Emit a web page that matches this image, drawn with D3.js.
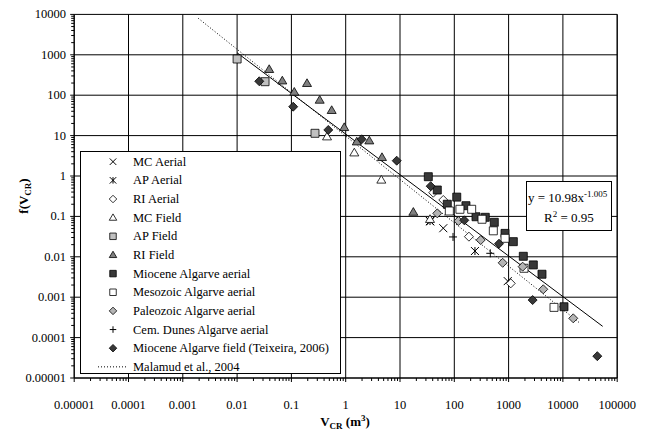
<!DOCTYPE html>
<html>
<head>
<meta charset="utf-8">
<script src="https://cdn.jsdelivr.net/npm/d3@7"></script>
<style>
  body { margin: 0; background: #fff; }
  text { font-family: "Liberation Serif", "Times New Roman", serif; }
</style>
</head>
<body>
<div id="chart"></div>
<script>
// data, [V, f(V)] pairs
var mcAerial = [[36, 0.075], [62.7, 0.051], [964, 0.0025]];
var apAerial = [[35.7, 0.077], [240, 0.0139]];
var riAerial = [[41, 0.386], [62.7, 0.255], [186, 0.0315], [1096, 0.0022]];
var mcField = [[0.453, 9.4], [1.44, 3.77], [4.53, 0.80], [35.7, 0.085]];
var apField = [[0.01, 787], [0.0327, 216], [0.272, 11.4]];
var riField = [[0.039, 438], [0.068, 228], [0.113, 120], [0.194, 197], [0.332, 76], [0.552, 42.3],
               [0.94, 16], [1.6, 7.06], [2.72, 7.48], [4.66, 2.9], [17.6, 0.128]];
var mioceneAerial = [[33.2, 0.96], [48.6, 0.45], [74.3, 0.2], [111, 0.30], [164, 0.184], [251, 0.098],
                     [372, 0.095], [545, 0.0715], [859, 0.038], [1222, 0.0237], [1866, 0.0103],
                     [2850, 0.0063], [4120, 0.0037], [10470, 0.00058]];
var mesozoicAerial = [[81, 0.136], [127, 0.15], [209, 0.15], [324, 0.085], [523, 0.044], [859, 0.0287],
                      [1922, 0.0052], [6860, 0.00056]];
var paleozoicAerial = [[48.6, 0.119], [119, 0.077], [306, 0.026], [778, 0.0071], [1815, 0.0057],
                       [4350, 0.00157], [15500, 0.0003]];
var cemDunes = [[94.7, 0.031], [460, 0.0122]];
var mioceneField = [[0.0256, 221], [0.108, 51.9], [0.478, 13.8], [1.97, 8.1], [8.7, 2.39], [36.7, 0.56],
                    [153, 0.08], [666, 0.0211], [2770, 0.00085], [43000, 3.47e-5]];

// power-law lines (straight in log-log), end points
var fitLine = [[0.01, 1120], [54000, 1.9e-4]];
var malamudLine = [[0.00193, 8000], [20050, 2.34e-4]];

var xTicks = [0.00001, 0.0001, 0.001, 0.01, 0.1, 1, 10, 100, 1000, 10000, 100000];
var xTickLabels = ["0.00001", "0.0001", "0.001", "0.01", "0.1", "1", "10", "100", "1000", "10000", "100000"];
var yTicks = [0.00001, 0.0001, 0.001, 0.01, 0.1, 1, 10, 100, 1000, 10000];
var yTickLabels = ["0.00001", "0.0001", "0.001", "0.01", "0.1", "1", "10", "100", "1000", "10000"];

var series = [
  {name: "MC Aerial", data: mcAerial, type: "x"},
  {name: "AP Aerial", data: apAerial, type: "star"},
  {name: "RI Aerial", data: riAerial, type: "diamond", fill: "#fff"},
  {name: "MC Field", data: mcField, type: "triangle", fill: "#fff"},
  {name: "AP Field", data: apField, type: "square", fill: "#c0c0c0"},
  {name: "RI Field", data: riField, type: "triangle", fill: "#808080"},
  {name: "Miocene Algarve aerial", data: mioceneAerial, type: "square", fill: "#383838"},
  {name: "Mesozoic Algarve aerial", data: mesozoicAerial, type: "square", fill: "#fff"},
  {name: "Paleozoic Algarve aerial", data: paleozoicAerial, type: "diamond", fill: "#b4b4b4"},
  {name: "Cem. Dunes Algarve aerial", data: cemDunes, type: "plus"},
  {name: "Miocene Algarve field (Teixeira, 2006)", data: mioceneField, type: "diamond", fill: "#383838"}
];

var width = 650, height = 431;
var plotLeft = 74.2, plotRight = 617.2, plotTop = 14.4, plotBottom = 378;

var svg = d3.select("#chart")
  .append("svg")
    .attr("width", width)
    .attr("height", height);

var x = d3.scaleLog().domain([0.00001, 100000]).range([plotLeft, plotRight]);
var y = d3.scaleLog().domain([0.00001, 10000]).range([plotBottom, plotTop]);

// marker paths
function marker(type, s) {
  var h = s / 2;
  if (type == "square") return "M" + (-h) + "," + (-h) + "h" + s + "v" + s + "h" + (-s) + "Z";
  if (type == "triangle") return "M0," + (-h - 0.5) + "L" + (h + 0.5) + "," + (h * 0.8) + "L" + (-h - 0.5) + "," + (h * 0.8) + "Z";
  if (type == "diamond") return "M0," + (-h - 0.5) + "L" + (h + 0.5) + ",0L0," + (h + 0.5) + "L" + (-h - 0.5) + ",0Z";
  if (type == "x") return "M" + (-h) + "," + (-h) + "L" + h + "," + h + "M" + (-h) + "," + h + "L" + h + "," + (-h);
  if (type == "star") return "M" + (-h) + "," + (-h) + "L" + h + "," + h + "M" + (-h) + "," + h + "L" + h + "," + (-h) + "M0," + (-h) + "L0," + h;
  if (type == "plus") return "M" + (-h) + ",0L" + h + ",0M0," + (-h) + "L0," + h;
}
function isLine(type) { return type == "x" || type == "star" || type == "plus"; }

// grid
var grid = svg.append("g");
yTicks.forEach(function(d) {
  grid.append("line")
    .attr("x1", plotLeft).attr("x2", plotRight)
    .attr("y1", y(d)).attr("y2", y(d))
    .attr("stroke", "#000").attr("stroke-width", 1);
});
xTicks.forEach(function(d) {
  grid.append("line")
    .attr("x1", x(d)).attr("x2", x(d))
    .attr("y1", plotTop).attr("y2", plotBottom)
    .attr("stroke", "#000").attr("stroke-width", 1);
});

// axes with minor ticks
var minorX = [], minorY = [];
for (var e = -5; e < 5; e++) {
  for (var k = 2; k < 10; k++) {
    minorX.push(k * Math.pow(10, e));
    if (e < 4) minorY.push(k * Math.pow(10, e));
  }
}
var ax = svg.append("g").attr("stroke", "#000");
ax.append("line").attr("x1", plotLeft).attr("x2", plotRight).attr("y1", plotBottom).attr("y2", plotBottom);
ax.append("line").attr("x1", plotLeft).attr("x2", plotLeft).attr("y1", plotTop).attr("y2", plotBottom);
ax.append("line").attr("x1", plotRight).attr("x2", plotRight).attr("y1", plotTop).attr("y2", plotBottom);
xTicks.forEach(function(d) {
  ax.append("line").attr("x1", x(d)).attr("x2", x(d)).attr("y1", plotBottom).attr("y2", plotBottom + 4);
});
minorX.forEach(function(d) {
  ax.append("line").attr("x1", x(d)).attr("x2", x(d)).attr("y1", plotBottom).attr("y2", plotBottom + 3);
});
yTicks.forEach(function(d) {
  ax.append("line").attr("x1", plotLeft - 4).attr("x2", plotLeft).attr("y1", y(d)).attr("y2", y(d));
});
minorY.forEach(function(d) {
  ax.append("line").attr("x1", plotLeft - 3).attr("x2", plotLeft).attr("y1", y(d)).attr("y2", y(d));
});

// tick labels
svg.selectAll("xlab")
  .data(xTicks)
  .enter()
  .append("text")
    .attr("x", function(d) { return x(d); })
    .attr("y", 409)
    .attr("text-anchor", "middle")
    .style("font-size", "12.5px")
    .text(function(d, i) { return xTickLabels[i]; });

svg.selectAll("ylab")
  .data(yTicks)
  .enter()
  .append("text")
    .attr("x", 66)
    .attr("y", function(d) { return y(d) + 4; })
    .attr("text-anchor", "end")
    .style("font-size", "12.5px")
    .text(function(d, i) { return yTickLabels[i]; });

// axis titles
var xt = svg.append("text")
  .attr("x", 345).attr("y", 426)
  .attr("text-anchor", "middle")
  .style("font-size", "13px").style("font-weight", "bold");
xt.append("tspan").text("V");
xt.append("tspan").attr("dy", 3).style("font-size", "9px").text("CR");
xt.append("tspan").attr("dy", -3).text(" (m");
xt.append("tspan").attr("dy", -5).style("font-size", "9px").text("3");
xt.append("tspan").attr("dy", 5).text(")");

var yt = svg.append("text")
  .attr("transform", "translate(28,196)rotate(-90)")
  .attr("text-anchor", "middle")
  .style("font-size", "13px").style("font-weight", "bold");
yt.append("tspan").text("f(V");
yt.append("tspan").attr("dy", 3).style("font-size", "9px").text("CR");
yt.append("tspan").attr("dy", -3).text(")");

// lines
var line = d3.line()
  .x(function(d) { return x(d[0]); })
  .y(function(d) { return y(d[1]); });

svg.append("path")
  .datum(malamudLine)
  .attr("d", line)
  .attr("fill", "none")
  .attr("stroke", "#000")
  .attr("stroke-width", 1)
  .style("stroke-dasharray", "1,2");

svg.append("path")
  .datum(fitLine)
  .attr("d", line)
  .attr("fill", "none")
  .attr("stroke", "#000")
  .attr("stroke-width", 1);

// points
series.forEach(function(s) {
  svg.append("g")
    .selectAll("pt")
    .data(s.data)
    .enter()
    .append("path")
      .attr("transform", function(d) { return "translate(" + x(d[0]) + "," + y(d[1]) + ")"; })
      .attr("d", marker(s.type, 8))
      .attr("fill", isLine(s.type) ? "none" : s.fill)
      .attr("stroke", "#000")
      .attr("stroke-width", isLine(s.type) ? 1 : 0.8);
});

// Legend
var lg = svg.append("g");
lg.append("rect")
  .attr("x", 80.5).attr("y", 151.5)
  .attr("width", 260).attr("height", 222)
  .attr("fill", "#fff").attr("stroke", "#000");

var rowY = function(i) { return 161.7 + i * 18.65; };
lg.selectAll("lsym")
  .data(series)
  .enter()
  .append("path")
    .attr("transform", function(d, i) { return "translate(113," + rowY(i) + ")"; })
    .attr("d", function(d) { return marker(d.type, 6.5); })
    .attr("fill", function(d) { return isLine(d.type) ? "none" : d.fill; })
    .attr("stroke", "#000")
    .attr("stroke-width", function(d) { return isLine(d.type) ? 1 : 0.8; });

lg.selectAll("ltext")
  .data(series.map(function(d) { return d.name; }).concat(["Malamud et al., 2004"]))
  .enter()
  .append("text")
    .attr("x", 133)
    .attr("y", function(d, i) { return rowY(i) + 4; })
    .style("font-size", "12.5px")
    .text(function(d) { return d; });

lg.append("line")
  .attr("x1", 98).attr("x2", 128)
  .attr("y1", rowY(11)).attr("y2", rowY(11))
  .attr("stroke", "#000")
  .style("stroke-dasharray", "1,2");

// equation box
var eq = svg.append("g");
eq.append("rect")
  .attr("x", 526.5).attr("y", 181.5)
  .attr("width", 85).attr("height", 49)
  .attr("fill", "#fff").attr("stroke", "#000");
var e1 = eq.append("text").attr("x", 528).attr("y", 202).style("font-size", "13px");
e1.append("tspan").text("y = 10.98x");
e1.append("tspan").attr("dy", -5).style("font-size", "9px").text("-1.005");
var e2 = eq.append("text").attr("x", 569).attr("y", 222).attr("text-anchor", "middle").style("font-size", "13px");
e2.append("tspan").text("R");
e2.append("tspan").attr("dy", -5).style("font-size", "9px").text("2");
e2.append("tspan").attr("dy", 5).text(" = 0.95");
</script>
</body>
</html>
